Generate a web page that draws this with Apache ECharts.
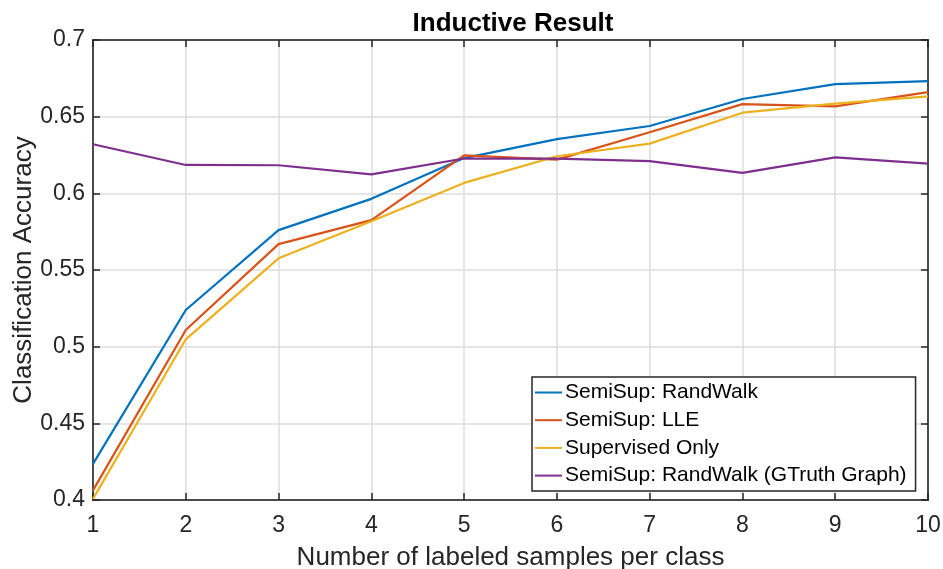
<!DOCTYPE html>
<html>
<head>
<meta charset="utf-8">
<script src="https://cdn.jsdelivr.net/npm/echarts@6/dist/echarts.min.js"></script>
<style>
  html, body { margin: 0; padding: 0; background: #fff; }
  #main { width: 943px; height: 569px; }
</style>
</head>
<body>
<div id="main"></div>
<script>
// samples per class (x)
var samples = [1, 2, 3, 4, 5, 6, 7, 8, 9, 10];

var seriesNames = [
  "SemiSup: RandWalk",
  "SemiSup: LLE",
  "Supervised Only",
  "SemiSup: RandWalk (GTruth Graph)"
];

// accuracies
var randWalk = [0.4236, 0.5239, 0.5760, 0.5964, 0.6230, 0.6354, 0.6439, 0.6615, 0.6712, 0.6732];
var lle      = [0.4063, 0.5109, 0.5669, 0.5825, 0.6248, 0.6220, 0.6398, 0.6582, 0.6567, 0.6660];
var supOnly  = [0.4007, 0.5048, 0.5576, 0.5818, 0.6068, 0.6242, 0.6324, 0.6526, 0.6585, 0.6632];
var gtruth   = [0.6320, 0.6185, 0.6183, 0.6124, 0.6227, 0.6227, 0.6210, 0.6133, 0.6235, 0.6194];

var colors = ["#0072BD", "#D95319", "#EDB120", "#7E2F8E"];

var font = "'Liberation Sans', Arial, Helvetica, sans-serif";
var ink = "#262626";

function pairs(ys) {
  return samples.map(function (x, i) { return [x, ys[i]]; });
}

var myChart = echarts.init(document.getElementById("main"));

var allData = [randWalk, lle, supOnly, gtruth];

myChart.setOption({
  animation: false,
  color: colors,
  textStyle: { fontFamily: font, color: ink },
  title: {
    text: "Inductive Result",
    left: 508,
    textAlign: "center",
    top: 6,
    textStyle: { fontFamily: font, fontSize: 26, fontWeight: "bold", color: "#000" }
  },
  grid: {
    left: 93,
    right: 15,
    top: 40,
    bottom: 69,
    outerBoundsMode: "none",
    containLabel: false,
    show: true,
    borderColor: ink,
    borderWidth: 1.5,
    backgroundColor: "#fff"
  },
  legend: {
    orient: "vertical",
    left: 532,
    top: 377,
    padding: [5, 9, 5, 3],
    itemWidth: 27,
    itemHeight: 2,
    itemGap: 6.7,
    icon: "rect",
    backgroundColor: "#fff",
    borderColor: ink,
    borderWidth: 1.5,
    textStyle: { fontFamily: font, fontSize: 21, color: "#000", lineHeight: 21, padding: [0, 0, 0, -2] },
    data: seriesNames
  },
  xAxis: [
    {
      type: "value",
      min: 1,
      max: 10,
      interval: 1,
      name: "Number of labeled samples per class",
      nameLocation: "middle",
      nameGap: 45,
      nameTextStyle: { fontFamily: font, fontSize: 26, color: ink },
      axisLine: { show: true, lineStyle: { color: ink, width: 1.5 } },
      axisTick: { show: true, inside: true, length: 7, lineStyle: { color: ink, width: 1.5 } },
      axisLabel: { fontFamily: font, fontSize: 23, color: ink, margin: 14 },
      splitLine: { show: true, lineStyle: { color: "#dcdcdc", width: 1.5 } }
    },
    {
      type: "value",
      position: "top",
      min: 1,
      max: 10,
      interval: 1,
      axisLine: { show: true, lineStyle: { color: ink, width: 1.5 } },
      axisTick: { show: true, inside: true, length: 7, lineStyle: { color: ink, width: 1.5 } },
      axisLabel: { show: false },
      splitLine: { show: false }
    }
  ],
  yAxis: [
    {
      type: "value",
      min: 0.4,
      max: 0.7,
      interval: 0.05,
      name: "Classification Accuracy",
      nameLocation: "middle",
      nameGap: 56,
      nameMoveOverlap: false,
      nameTextStyle: { fontFamily: font, fontSize: 26, color: ink },
      axisLine: { show: true, lineStyle: { color: ink, width: 1.5 } },
      axisTick: { show: true, inside: true, length: 7, lineStyle: { color: ink, width: 1.5 } },
      axisLabel: {
        fontFamily: font, fontSize: 23, color: ink, margin: 8,
        formatter: function (v) { return String(parseFloat(v.toFixed(2))); }
      },
      splitLine: { show: true, lineStyle: { color: "#dcdcdc", width: 1.5 } }
    },
    {
      type: "value",
      position: "right",
      min: 0.4,
      max: 0.7,
      interval: 0.05,
      axisLine: { show: true, lineStyle: { color: ink, width: 1.5 } },
      axisTick: { show: true, inside: true, length: 7, lineStyle: { color: ink, width: 1.5 } },
      axisLabel: { show: false },
      splitLine: { show: false }
    }
  ],
  series: seriesNames.map(function (name, i) {
    return {
      name: name,
      type: "line",
      data: pairs(allData[i]),
      showSymbol: false,
      symbol: "none",
      lineStyle: { width: 2.2, color: colors[i] },
      itemStyle: { color: colors[i] },
      z: 2 + i
    };
  })
});
</script>
</body>
</html>
